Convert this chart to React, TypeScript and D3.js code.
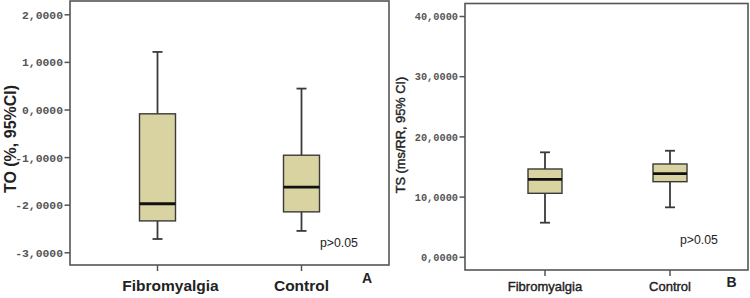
import React from "react";
import * as d3 from "d3";

const categories = ["Fibromyalgia", "Control"];

// Panel A: TO (%, 95%CI)
const toLowWhisker = [-2.71, -2.54];
const toQ1 = [-2.33, -2.14];
const toMedian = [-1.97, -1.62];
const toQ3 = [-0.08, -0.95];
const toHighWhisker = [1.22, 0.45];
const toTicks = [2, 1, 0, -1, -2, -3];
const toTickLabels = ["2,0000", "1,0000", "0,0000", "-1,0000", "-2,0000", "-3,0000"];

// Panel B: TS (ms/RR, 95% CI)
const tsLowWhisker = [5.75, 8.3];
const tsQ1 = [10.63, 12.56];
const tsMedian = [12.96, 13.9];
const tsQ3 = [14.67, 15.5];
const tsHighWhisker = [17.44, 17.7];
const tsTicks = [40, 30, 20, 10, 0];
const tsTickLabels = ["40,0000", "30,0000", "20,0000", "10,0000", "0,0000"];

const BOX_FILL = "#d9d3a1";
const STROKE = "#3a3a3a";
const FRAME = "#555";

type PanelProps = {
  frame: { x0: number; x1: number; y0: number; y1: number };
  xRange: [number, number];
  yDomain: [number, number];
  yRange: [number, number];
  ticks: number[];
  tickLabels: string[];
  low: number[];
  q1: number[];
  med: number[];
  q3: number[];
  high: number[];
  boxW: number;
  tickFont: number;
  catFont: number;
  catWeight: string;
  catStroke: number;
  catY: number;
  catDx: number[];
  title: string;
  titleX: number;
  titleY: number;
  titleFont: number;
  titleWeight: string;
  titleStroke: number;
  pText: { x: number; y: number };
  letter: { t: string; x: number; y: number };
};

function Panel(p: PanelProps) {
  const x = d3.scalePoint<string>().domain(categories).range(p.xRange);
  const y = d3.scaleLinear().domain(p.yDomain).range(p.yRange);
  const { x0, x1, y0, y1 } = p.frame;
  return (
    <g>
      <rect x={x0} y={y0} width={x1 - x0} height={y1 - y0} fill="none" stroke={FRAME} strokeWidth={1.6} />
      {p.ticks.map((t, i) => (
        <g key={t}>
          <line x1={x0 - 5.5} x2={x0} y1={y(t)} y2={y(t)} stroke={FRAME} strokeWidth={1.5} />
          <text
            x={x0 - 7}
            y={y(t)}
            dy="0.35em"
            textAnchor="end"
            fontFamily="'Liberation Mono', 'DejaVu Sans Mono', monospace"
            fontSize={p.tickFont}
            fontWeight="bold"
            fill="#555"
          >
            {p.tickLabels[i]}
          </text>
        </g>
      ))}
      {categories.map((c, i) => {
        const cx = x(c) as number;
        const hw = p.boxW / 2;
        return (
          <g key={c}>
            <line x1={cx} x2={cx} y1={y1} y2={y1 + 6} stroke={FRAME} strokeWidth={1.5} />
            <line x1={cx} x2={cx} y1={y(p.high[i])} y2={y(p.q3[i])} stroke={STROKE} strokeWidth={1.8} />
            <line x1={cx} x2={cx} y1={y(p.q1[i])} y2={y(p.low[i])} stroke={STROKE} strokeWidth={1.8} />
            <line x1={cx - 5} x2={cx + 5} y1={y(p.high[i])} y2={y(p.high[i])} stroke={STROKE} strokeWidth={1.8} />
            <line x1={cx - 5} x2={cx + 5} y1={y(p.low[i])} y2={y(p.low[i])} stroke={STROKE} strokeWidth={1.8} />
            <rect
              x={cx - hw}
              y={y(p.q3[i])}
              width={p.boxW}
              height={y(p.q1[i]) - y(p.q3[i])}
              fill={BOX_FILL}
              stroke={STROKE}
              strokeWidth={1.4}
            />
            <line x1={cx - hw} x2={cx + hw} y1={y(p.med[i])} y2={y(p.med[i])} stroke="#111" strokeWidth={2.8} />
            <text
              x={cx + p.catDx[i]}
              y={p.catY}
              textAnchor="middle"
              fontFamily="'Liberation Sans', Arial, sans-serif"
              fontSize={p.catFont}
              fontWeight={p.catWeight}
              fill="#222"
              stroke="#222"
              strokeWidth={p.catStroke}
            >
              {c}
            </text>
          </g>
        );
      })}
      <text
        transform={`translate(${p.titleX},${p.titleY}) rotate(-90)`}
        textAnchor="middle"
        fontFamily="'Liberation Sans', Arial, sans-serif"
        fontSize={p.titleFont}
        fontWeight={p.titleWeight}
        fill="#222"
        stroke="#222"
        strokeWidth={p.titleStroke}
      >
        {p.title}
      </text>
      <text
        x={p.pText.x}
        y={p.pText.y}
        fontFamily="'Liberation Sans', Arial, sans-serif"
        fontSize={12.3}
        fill="#222"
      >
        p&gt;0.05
      </text>
      <text
        x={p.letter.x}
        y={p.letter.y}
        textAnchor="middle"
        fontFamily="'Liberation Sans', Arial, sans-serif"
        fontSize={14}
        fontWeight="bold"
        fill="#222"
      >
        {p.letter.t}
      </text>
    </g>
  );
}

export default function App() {
  return (
    <svg
      width={750}
      height={298}
      style={{ position: "absolute", left: 0, top: 0, background: "#fff" }}
    >
      <rect width={750} height={298} fill="#fff" />
      <Panel
        frame={{ x0: 70, x1: 389, y0: 1, y1: 265 }}
        xRange={[157.5, 301.5]}
        yDomain={[0, 1]}
        yRange={[110, 62.4]}
        ticks={toTicks}
        tickLabels={toTickLabels}
        low={toLowWhisker}
        q1={toQ1}
        med={toMedian}
        q3={toQ3}
        high={toHighWhisker}
        boxW={36}
        tickFont={11.4}
        catFont={15.5}
        catWeight="bold"
        catStroke={0}
        catY={291}
        catDx={[13, 0]}
        title="TO (%, 95%CI)"
        titleX={15.5}
        titleY={139}
        titleFont={16}
        titleWeight="bold"
        titleStroke={0}
        pText={{ x: 320, y: 247 }}
        letter={{ t: "A", x: 367, y: 283 }}
      />
      <Panel
        frame={{ x0: 465, x1: 748, y0: 3.5, y1: 270 }}
        xRange={[545, 670]}
        yDomain={[0, 10]}
        yRange={[257.3, 197.1]}
        ticks={tsTicks}
        tickLabels={tsTickLabels}
        low={tsLowWhisker}
        q1={tsQ1}
        med={tsMedian}
        q3={tsQ3}
        high={tsHighWhisker}
        boxW={34}
        tickFont={10.3}
        catFont={13}
        catWeight="normal"
        catStroke={0.4}
        catY={291}
        catDx={[0, 0]}
        title="TS (ms/RR, 95% CI)"
        titleX={405}
        titleY={135}
        titleFont={12.8}
        titleWeight="normal"
        titleStroke={0.4}
        pText={{ x: 680, y: 244 }}
        letter={{ t: "B", x: 731.5, y: 286.5 }}
      />
    </svg>
  );
}
